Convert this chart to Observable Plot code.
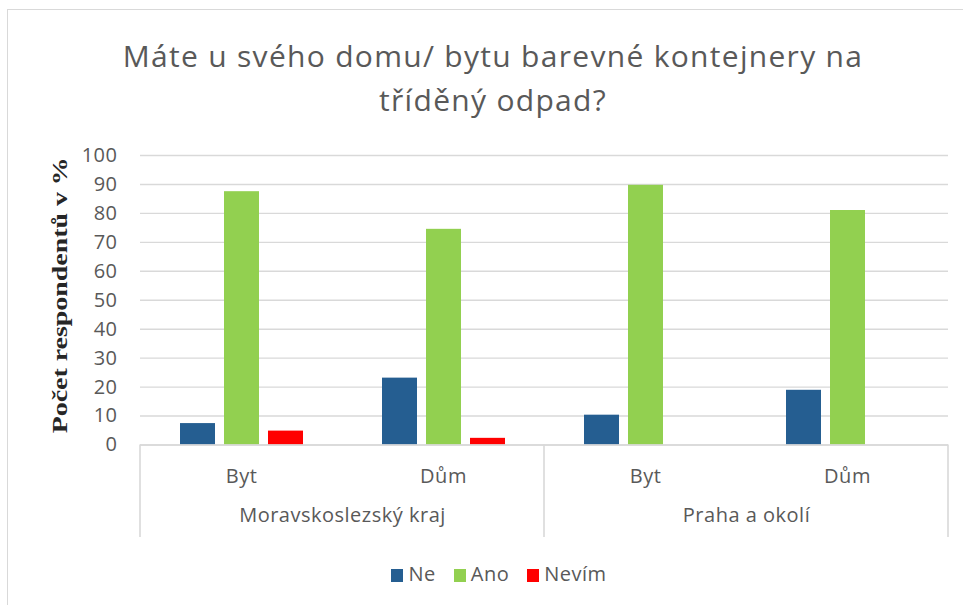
<!DOCTYPE html>
<html>
<head>
<meta charset="utf-8">
<script src="https://cdn.jsdelivr.net/npm/d3@7"></script>
<script src="https://cdn.jsdelivr.net/npm/@observablehq/plot@0.6"></script>
<style>
  html, body { margin: 0; padding: 0; background: #fff; overflow: hidden; width: 963px; height: 605px; }
  #wrap { position: relative; width: 963px; height: 605px; font-family: "Open Sans", Lato, sans-serif; }
  #frame { position: absolute; left: 7px; top: 9px; width: 990px; height: 640px; border: 1.5px solid #d9d9d9; box-sizing: border-box; }
  #title { position: absolute; left: 0; width: 986px; top: 34px; text-align: center; font-size: 30px; line-height: 44px; color: #595959; letter-spacing: 1.3px; }
  #chart { position: absolute; left: 0; top: 140px; }
  #legend { position: absolute; left: 0; width: 998px; top: 560px; text-align: center; font-size: 20px; letter-spacing: 0.5px; color: #595959; white-space: nowrap; }
  #legend .item { display: inline-block; margin: 0 9px; }
  #legend .sw { display: inline-block; width: 12px; height: 13px; margin-right: 5px; vertical-align: -1px; }
</style>
</head>
<body>
<div id="wrap">
  <div id="frame"></div>
  <div id="title"></div>
  <div id="chart"></div>
  <div id="legend"></div>
</div>
<script>
// ---- data ----
const titleLines = ["Máte u svého domu/ bytu barevné kontejnery na", "tříděný odpad?"];
const yTitle = "Počet respondentů v %";
const regions = ["Moravskoslezský kraj", "Praha a okolí"];
const housing = ["Byt", "Dům"];
const series = ["Ne", "Ano", "Nevím"];
const seriesColors = ["#255e91", "#92d050", "#ff0000"];
// values in order: MS Byt, MS Dům, Praha Byt, Praha Dům
const ne    = [7.4, 23.1, 10.3, 18.9];
const ano   = [87.5, 74.5, 89.7, 81.0];
const nevim = [4.8, 2.3, null, null];
const yTicks = [0, 10, 20, 30, 40, 50, 60, 70, 80, 90, 100];

// ---- build table ----
const keys = regions.flatMap(r => housing.map(h => r + "|" + h));
const valueSets = [ne, ano, nevim];
const rows = [];
keys.forEach((k, i) => {
  series.forEach((s, si) => {
    const v = valueSets[si][i];
    if (v != null) rows.push({key: k, series: s, value: v});
  });
});
const regionRows = regions.map(r => ({key: r + "|" + housing[0], region: r}));

document.getElementById("title").innerHTML = titleLines.map(t => `<div>${t}</div>`).join("");

const FONT = "'Open Sans', Lato, sans-serif";
const plot = Plot.plot({
  width: 963,
  height: 465,
  marginTop: 15,
  marginBottom: 160.5,
  marginLeft: 139,
  marginRight: 14,
  style: {fontFamily: FONT, fontSize: "20px", letterSpacing: "0.5px", color: "#595959", background: "transparent", overflow: "visible"},
  fx: {domain: keys, padding: 0},
  x: {domain: series, paddingInner: 0.206, paddingOuter: 0.868, axis: null},
  y: {domain: [0, 100], axis: null},
  color: {domain: series, range: seriesColors},
  marks: [
    Plot.gridY(yTicks, {stroke: "#d9d9d9", strokeOpacity: 1, strokeWidth: 1.4}),
    Plot.barY(rows, {fx: "key", x: "series", y: "value", fill: "series"}),
    Plot.ruleY([0], {stroke: "#d9d9d9", strokeWidth: 1.6}),
    Plot.axisY(yTicks, {tickSize: 0, tickPadding: 23, fontSize: 20, fill: "#595959", label: null}),
    Plot.axisFx({anchor: "bottom", tickSize: 0, tickPadding: 24, fontSize: 20, fill: "#595959", label: null,
                 tickFormat: k => k.split("|")[1]}),
    Plot.text(regionRows, {fx: "key", text: "region", frameAnchor: "bottom-right", textAnchor: "middle",
                           dy: 77, fontSize: 20, fill: "#595959"}),
    Plot.text([yTitle], {frameAnchor: "left", facetAnchor: "left", textAnchor: "middle", rotate: -90, dx: -80, dy: -5,
                         fontFamily: "'Liberation Serif', 'Times New Roman', serif", fontWeight: "bold",
                         fontSize: 21.5, fill: "#262626"})
  ]
});
document.getElementById("chart").appendChild(plot);

// stretch the y title to the reference's length
d3.select(plot).selectAll("text")
  .filter(function() { return this.textContent === yTitle; })
  .attr("textLength", 276).attr("lengthAdjust", "spacingAndGlyphs").style("letter-spacing", "0px");

// hierarchical axis dividers, positioned from Plot's own scales
const fxs = plot.scale("fx"), ys = plot.scale("y");
const y0 = ys.apply(0);
const divX = regions.map(r => fxs.apply(r + "|" + housing[0]));
divX.push(fxs.apply(keys[keys.length - 1]) + fxs.bandwidth);
d3.select(plot).append("g")
  .selectAll("line").data(divX).join("line")
  .attr("x1", d => d).attr("x2", d => d)
  .attr("y1", y0).attr("y2", y0 + 92.5)
  .attr("stroke", "#d9d9d9").attr("stroke-width", 1.6);

// legend
document.getElementById("legend").innerHTML = series.map((s, i) =>
  `<span class="item"><span class="sw" style="background:${seriesColors[i]}"></span>${s}</span>`).join("");
</script>
</body>
</html>
